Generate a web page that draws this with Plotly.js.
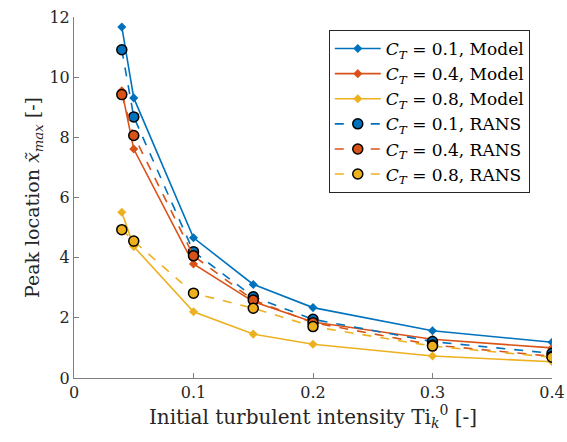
<!DOCTYPE html>
<html><head><meta charset="utf-8">
<script src="https://cdn.plot.ly/plotly-3.0.1.min.js"></script>
<style>html,body{margin:0;padding:0;background:#fff}#chart{width:567px;height:442px}</style>
</head><body><div id="chart"></div>
<script>
const ti = [0.04, 0.05, 0.1, 0.15, 0.2, 0.3, 0.4];
const model_ct01 = [11.67, 9.31, 4.66, 3.11, 2.34, 1.57, 1.19];
const model_ct04 = [9.55, 7.61, 3.79, 2.54, 1.86, 1.29, 1.0];
const model_ct08 = [5.51, 4.37, 2.2, 1.46, 1.12, 0.73, 0.54];
const rans_ct01 = [10.91, 8.68, 4.2, 2.7, 1.95, 1.21, 0.82];
const rans_ct04 = [9.42, 8.06, 4.06, 2.59, 1.84, 1.1, 0.72];
const rans_ct08 = [4.93, 4.55, 2.82, 2.32, 1.71, 1.06, 0.69];
const names = ['0.1', '0.4', '0.8'];
const colors = ['#0072BD', '#D95319', '#EDB120'];
const modelSets = [model_ct01, model_ct04, model_ct08];
const ransSets = [rans_ct01, rans_ct04, rans_ct08];
const serif = 'DejaVu Serif, serif';
const traces = [];
modelSets.forEach((ys, i) => traces.push({
  x: ti, y: ys, type: 'scatter', mode: 'lines+markers',
  name: '<i>C</i><sub><i>T</i></sub> = ' + names[i] + ', Model',
  line: {color: colors[i], width: 1.6},
  marker: {symbol: 'diamond', size: 7, color: colors[i]}
}));
ransSets.forEach((ys, i) => traces.push({
  x: ti, y: ys, type: 'scatter', mode: 'lines+markers',
  name: '<i>C</i><sub><i>T</i></sub> = ' + names[i] + ', RANS',
  line: {color: colors[i], width: 1.6, dash: 'dash'},
  marker: {symbol: 'circle', size: 10, color: colors[i], line: {color: '#000', width: 1.5}}
}));
const axCommon = {
  showline: true, linecolor: '#7f7f7f', linewidth: 1, mirror: false,
  ticks: 'inside', ticklen: 5, tickcolor: '#7f7f7f', showgrid: false, zeroline: false,
  tickfont: {family: serif, size: 16, color: '#262626'}
};
const layout = {
  width: 567, height: 442,
  margin: {l: 74, r: 15, t: 17, b: 64},
  paper_bgcolor: '#fff', plot_bgcolor: '#fff',
  font: {family: serif, color: '#262626'},
  showlegend: true,
  legend: {x: 0.533, y: 0.964, xanchor: 'left', yanchor: 'top',
    bordercolor: '#262626', borderwidth: 1, bgcolor: '#fff',
    font: {family: serif, size: 17, color: '#000'}, tracegroupgap: 0, itemwidth: 46},
  xaxis: Object.assign({}, axCommon, {range: [0, 0.4], tickvals: [0, 0.1, 0.2, 0.3, 0.4],
    ticktext: ['0', '0.1', '0.2', '0.3', '0.4'],
    title: {text: 'Initial turbulent intensity Ti<sub><i>k</i></sub><sup>0</sup> [-]', font: {family: serif, size: 20, color: '#262626'}, standoff: 8}}),
  yaxis: Object.assign({}, axCommon, {range: [0, 12], tickvals: [0, 2, 4, 6, 8, 10, 12],
    ticksuffix: '\u2002',
    title: {text: 'Peak location <i>x̃</i><sub><i>max</i></sub> [-]', font: {family: serif, size: 19, color: '#262626'}, standoff: 4}})
};
Plotly.newPlot('chart', traces, layout, {displayModeBar: false, staticPlot: true});
</script></body></html>
